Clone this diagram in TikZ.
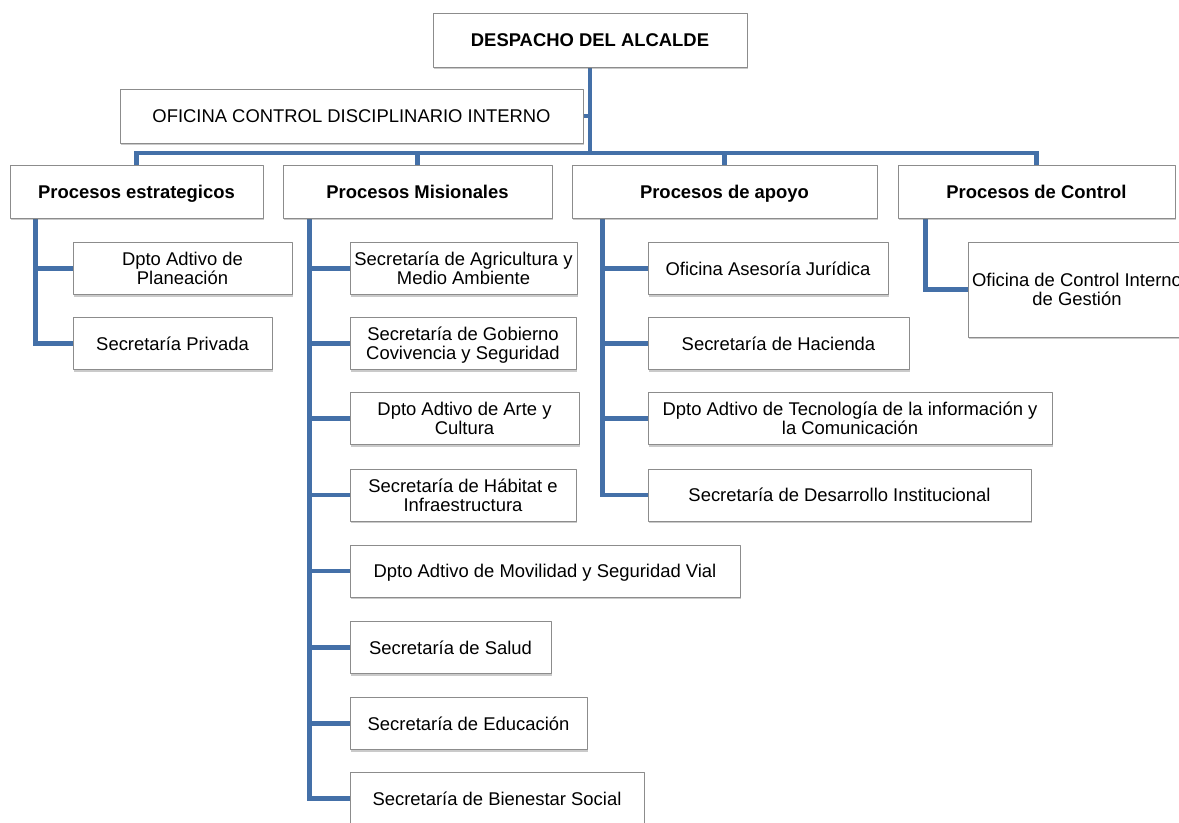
\documentclass[tikz,border=0pt]{standalone}
\usepackage{fontspec}
\setmainfont{Liberation Sans}
\usetikzlibrary{shadows,backgrounds}
\definecolor{orgblue}{RGB}{68,112,168}
\definecolor{boxgray}{RGB}{140,140,140}

\begin{document}
\begin{tikzpicture}[x=0.025cm,y=-0.025cm,line cap=round,line join=round,
  unit/.style={draw=boxgray,line width=0.6pt,fill=white,align=center,inner sep=1pt,
    font=\fontsize{13.1}{13.5}\selectfont,
    execute at begin node=\strut,text depth=0pt,
    drop shadow={shadow xshift=0.7pt,shadow yshift=-1.7pt,fill=black!60,opacity=0.35}},
  head/.style={unit,font=\fontsize{13.1}{13.5}\selectfont\bfseries},
  link/.style={draw=orgblue,line width=3.2pt}]
\clip (0,0) rectangle (1179,823);

% top
\node[head,minimum width=7.85cm,minimum height=1.35cm] (despacho) at (590,40) {DESPACHO DEL ALCALDE};
\node[unit,minimum width=11.575cm,minimum height=1.35cm] (ocdi) at (351.5,116) {OFICINA CONTROL DISCIPLINARIO INTERNO};

% procesos
\node[head,minimum width=6.325cm,minimum height=1.325cm] (estr) at (136.5,191.5) {Procesos estrategicos};
\node[head,minimum width=6.725cm,minimum height=1.325cm] (misi) at (417.5,191.5) {Procesos Misionales};
\node[head,minimum width=7.625cm,minimum height=1.325cm] (apoyo) at (724.5,191.5) {Procesos de apoyo};
\node[head,minimum width=6.925cm,minimum height=1.325cm] (ctrl) at (1036.5,191.5) {Procesos de Control};

% estrategicos
\node[unit,minimum width=5.475cm,minimum height=1.3cm] (plan) at (182.5,268.5) {Dpto Adtivo de\\Planeación};
\node[unit,minimum width=4.975cm,minimum height=1.3cm] (priv) at (172.5,343.5) {Secretaría Privada};

% misionales
\node[unit,minimum width=5.675cm,minimum height=1.3cm] (agri) at (463.5,268.5) {Secretaría de Agricultura y\\Medio Ambiente};
\node[unit,minimum width=5.65cm,minimum height=1.3cm] (gob) at (463,343.5) {Secretaría de Gobierno\\Covivencia y Seguridad};
\node[unit,minimum width=5.725cm,minimum height=1.3cm] (arte) at (464.5,418.5) {Dpto Adtivo de Arte y\\Cultura};
\node[unit,minimum width=5.65cm,minimum height=1.3cm] (habi) at (463,495) {Secretaría de Hábitat e\\Infraestructura};
\node[unit,minimum width=9.75cm,minimum height=1.3cm] (movi) at (545,571) {Dpto Adtivo de Movilidad y Seguridad Vial};
\node[unit,minimum width=5.025cm,minimum height=1.3cm] (salud) at (450.5,647.5) {Secretaría de Salud};
\node[unit,minimum width=5.925cm,minimum height=1.3cm] (edu) at (468.5,723.5) {Secretaría de Educación};
\node[unit,minimum width=7.35cm,minimum height=1.3cm] (bien) at (497,798.5) {Secretaría de Bienestar Social};

% apoyo
\node[unit,minimum width=6cm,minimum height=1.3cm] (juri) at (768,268.5) {Oficina Asesoría Jurídica};
\node[unit,minimum width=6.525cm,minimum height=1.3cm] (haci) at (778.5,343.5) {Secretaría de Hacienda};
\node[unit,minimum width=10.1cm,minimum height=1.3cm] (tecn) at (850,418.5) {Dpto Adtivo de Tecnología de la información y\\la Comunicación};
\node[unit,minimum width=9.575cm,minimum height=1.3cm] (desa) at (839.5,495) {Secretaría de Desarrollo Institucional};

% control
\node[unit,minimum width=5.45cm,minimum height=2.375cm] (ocig) at (1077,289.5) {Oficina de Control Interno\\de Gestión};

\coordinate (bus) at (590,153);
\coordinate (estrspine) at ([xshift=0.65cm]estr.south west);
\coordinate (misispine) at ([xshift=0.675cm]misi.south west);
\coordinate (apoyospine) at ([xshift=0.775cm]apoyo.south west);
\coordinate (ctrlspine) at ([xshift=0.7cm]ctrl.south west);

\begin{scope}[on background layer]
\draw[link] (despacho.south) -- (bus);
\draw[link] (ocdi.east) -- (ocdi.east -| bus);
\draw[link] (estr.north) |- (bus) -| (ctrl.north);
\draw[link] (misi.north) -- (misi.north |- bus);
\draw[link] (apoyo.north) -- (apoyo.north |- bus);
\foreach \n in {plan,priv}
  \draw[link] (estrspine) |- (\n.west);
\foreach \n in {agri,gob,arte,habi,movi,salud,edu,bien}
  \draw[link] (misispine) |- (\n.west);
\foreach \n in {juri,haci,tecn,desa}
  \draw[link] (apoyospine) |- (\n.west);
\draw[link] (ctrlspine) |- (ocig.west);
\end{scope}
\end{tikzpicture}
\end{document}
